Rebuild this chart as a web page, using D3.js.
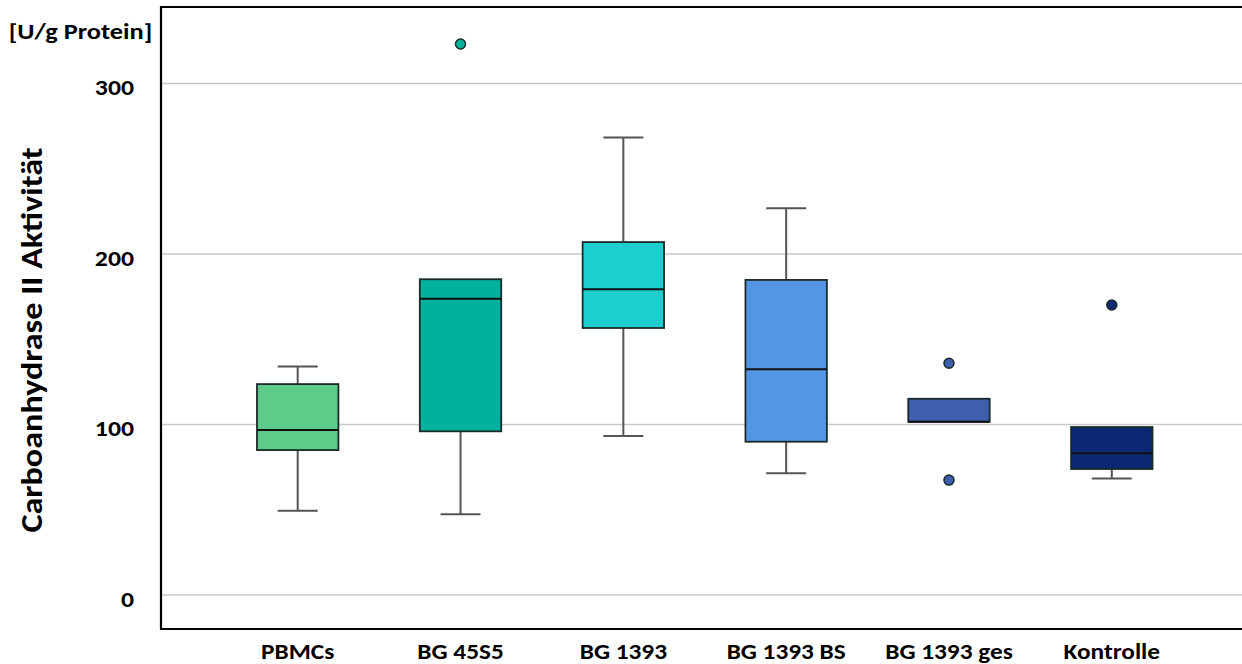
<!DOCTYPE html>
<html><head><meta charset="utf-8">
<script src="https://cdn.jsdelivr.net/npm/d3@7"></script>
<style>body{margin:0;background:#fff}svg{display:block}</style>
</head><body>
<script>
const categories = ["PBMCs","BG 45S5","BG 1393","BG 1393 BS","BG 1393 ges","Kontrolle"];
const whiskerLow  = [49.4, 47.3, 93.3, 71.4, 101.6, 68.4];
const q1          = [85.0, 96.0, 156.6, 89.9, 101.6, 73.9];
const median      = [96.8, 173.8, 179.3, 132.4, 101.6, 83.1];
const q3          = [123.7, 185.2, 207.0, 184.8, 115.1, 98.5];
const whiskerHigh = [134.0, 185.2, 268.4, 226.8, 115.1, 98.5];
const outliers    = [[], [323.2], [], [], [135.9, 67.4], [170.1]];
const colors      = ["#5dcb8a","#00b29c","#1ccfcf","#5596e3","#3e5eb0","#0b2873"];
const yTicks      = [0, 100, 200, 300];

const W = 1242, H = 664;
const svg = d3.select("body").append("svg").attr("width", W).attr("height", H);
const font = "Carlito, Calibri, Lato, 'Open Sans', sans-serif";

const y = d3.scaleLinear().domain([0, 300]).range([595, 83.5]);
const x = d3.scaleBand().domain(categories).range([257, 1152.5]).paddingInner(0.5).paddingOuter(0);

// gridlines
svg.append("g").selectAll("line").data(yTicks).join("line")
  .attr("x1", 161).attr("x2", W).attr("y1", d => y(d)).attr("y2", d => y(d))
  .attr("stroke", "#c8c8c8").attr("stroke-width", 1.5);

// axis tick labels
const yAxis = d3.axisLeft(y).tickValues(yTicks).tickSize(0).tickPadding(0);
const ya = svg.append("g").attr("transform", "translate(134,0)").call(yAxis);
ya.select(".domain").remove();
ya.selectAll("text").attr("font-family", font).attr("font-weight", "bold")
  .attr("font-size", 23).attr("fill", "#000").attr("x", 0).attr("dy", 0).attr("y", 11)
  .attr("transform", "scale(1.12,1)");

const xAxis = d3.axisBottom(x).tickSize(0).tickPadding(0);
const xa = svg.append("g").attr("transform", "translate(0,659)").call(xAxis);
xa.select(".domain").remove();
xa.selectAll("text").attr("font-family", font).attr("font-weight", "bold")
  .attr("font-size", 23).attr("fill", "#000").attr("y", 0).attr("dy", 0)
  .attr("transform", "scale(1.1,1)");

// frame (left, top, bottom)
svg.append("path").attr("d", `M${W},7H161V629H${W}`).attr("fill", "none")
  .attr("stroke", "#000").attr("stroke-width", 2.2);

// boxes
const data = categories.map((c, i) => ({c, i}));
const g = svg.append("g").selectAll("g").data(data).join("g");
const cx = d => x(d.c) + x.bandwidth() / 2;
const capW = 20;
g.append("line").attr("x1", cx).attr("x2", cx)
  .attr("y1", d => y(whiskerHigh[d.i])).attr("y2", d => y(q3[d.i]))
  .attr("stroke", "#555").attr("stroke-width", 2);
g.append("line").attr("x1", cx).attr("x2", cx)
  .attr("y1", d => y(q1[d.i])).attr("y2", d => y(whiskerLow[d.i]))
  .attr("stroke", "#555").attr("stroke-width", 2);
g.filter(d => whiskerHigh[d.i] > q3[d.i]).append("line")
  .attr("x1", d => cx(d) - capW).attr("x2", d => cx(d) + capW)
  .attr("y1", d => y(whiskerHigh[d.i])).attr("y2", d => y(whiskerHigh[d.i]))
  .attr("stroke", "#555").attr("stroke-width", 2);
g.filter(d => whiskerLow[d.i] < q1[d.i]).append("line")
  .attr("x1", d => cx(d) - capW).attr("x2", d => cx(d) + capW)
  .attr("y1", d => y(whiskerLow[d.i])).attr("y2", d => y(whiskerLow[d.i]))
  .attr("stroke", "#555").attr("stroke-width", 2);
g.append("rect").attr("x", d => x(d.c)).attr("width", x.bandwidth())
  .attr("y", d => y(q3[d.i])).attr("height", d => y(q1[d.i]) - y(q3[d.i]))
  .attr("fill", d => colors[d.i]).attr("stroke", "#1a2a2a").attr("stroke-width", 1.8);
g.append("line").attr("x1", d => x(d.c)).attr("x2", d => x(d.c) + x.bandwidth())
  .attr("y1", d => y(median[d.i])).attr("y2", d => y(median[d.i]))
  .attr("stroke", "#111").attr("stroke-width", 2);
g.selectAll("circle").data(d => outliers[d.i].map(v => ({v, d}))).join("circle")
  .attr("cx", o => cx(o.d)).attr("cy", o => y(o.v)).attr("r", 5)
  .attr("fill", o => colors[o.d.i]).attr("stroke", "#1a2a2a").attr("stroke-width", 1.5);

// axis titles
svg.append("text").attr("transform", "translate(80.5,39) scale(1.2,1)").attr("text-anchor", "middle")
  .attr("font-family", font).attr("font-weight", "bold").attr("font-size", 22)
  .text("[U/g Protein]");
svg.append("text").attr("transform", "translate(42,340) rotate(-90) scale(1.14,1)")
  .attr("text-anchor", "middle").attr("font-family", font).attr("font-weight", "bold")
  .attr("font-size", 30).text("Carboanhydrase II Aktivität");
</script>
</body></html>
